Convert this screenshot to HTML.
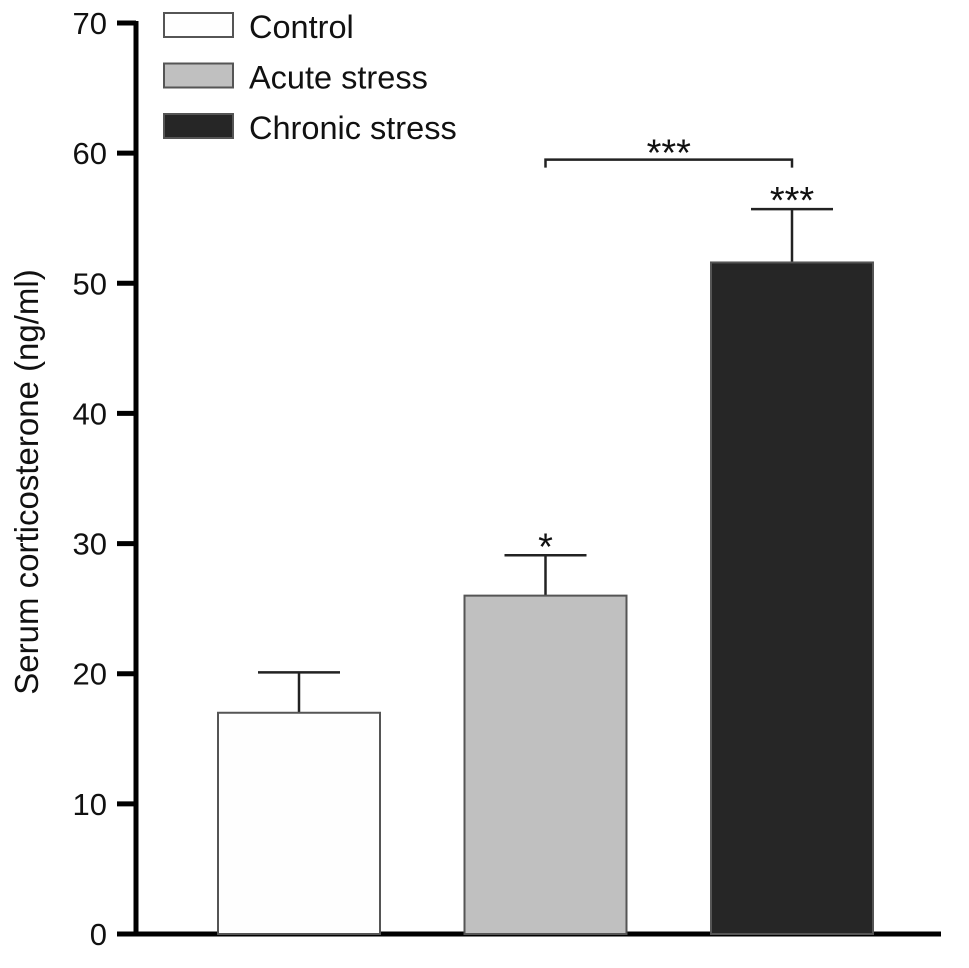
<!DOCTYPE html>
<html><head><meta charset="utf-8"><style>
body{margin:0;background:#fff;}
svg text{font-family:"Liberation Sans",Arial,sans-serif;fill:#111;}
</style></head><body>
<svg id="chart" width="969" height="963" viewBox="0 0 969 963" xmlns="http://www.w3.org/2000/svg">
<g id="axes"></g>
<g id="bars"></g>
<g id="legend"></g>
<text transform="translate(38,482) rotate(-90)" text-anchor="middle" font-size="33">Serum corticosterone (ng/ml)</text>
</svg>
<script>
const categories = ["Control", "Acute stress", "Chronic stress"];
const values = [17, 26, 51.6];
const errors = [3.1, 3.1, 4.1];
const sigLabels = ["", "*", "***"];
const yTicks = [0, 10, 20, 30, 40, 50, 60, 70];
const bracketLabel = "***";

const NS = "http://www.w3.org/2000/svg";
const y0 = 934, yTop = 23, yMax = 70;
const yScale = v => y0 - (v / yMax) * (y0 - yTop);
const barX = i => 218 + i * 246.5;
const barW = 162;
const fills = ["#fefefe", "#c0c0c0", "#262626"];
function mk(tag, attrs, parent) {
  const e = document.createElementNS(NS, tag);
  for (const k in attrs) e.setAttribute(k, attrs[k]);
  parent.appendChild(e);
  return e;
}
const axes = document.getElementById('axes');
const bars = document.getElementById('bars');
const legend = document.getElementById('legend');

categories.forEach((c, i) => {
  const x = barX(i), cx = x + barW / 2;
  const top = yScale(values[i]), etop = yScale(values[i] + errors[i]);
  const el = mk('line', {x1: cx, x2: cx, y1: top, y2: etop, stroke: '#222', 'stroke-width': 2.5}, bars);
  
  
  const cap = mk('line', {x1: cx - 41, x2: cx + 41, y1: etop, y2: etop, stroke: '#222', 'stroke-width': 2.5}, bars);
  
  
  const r = mk('rect', {x: x, y: top, width: barW, height: y0 - top, fill: fills[i], stroke: '#555', 'stroke-width': 2}, bars);
  
  
  if (sigLabels[i]) {
    const t = mk('text', {x: cx, y: etop + 4, 'text-anchor': 'middle', 'font-size': 38}, bars);
    t.textContent = sigLabels[i];
    
    
  }
});
{
  const xa = barX(1) + barW / 2, xb = barX(2) + barW / 2, yb = yScale(59.5);
  const p = mk('path', {d: `M${xa},${yb + 8} V${yb} H${xb} V${yb + 8}`, fill: 'none', stroke: '#222', 'stroke-width': 2.5}, bars);
  
  
  const t = mk('text', {x: (xa + xb) / 2, y: yb + 6, 'text-anchor': 'middle', 'font-size': 38}, bars);
  t.textContent = bracketLabel;
  
  
}
{
  const ya = mk('line', {x1: 136, x2: 136, y1: yTop - 2, y2: y0 + 2.5, stroke: '#000', 'stroke-width': 5}, axes);
  
  
  const xa = mk('line', {x1: 117, x2: 941, y1: y0, y2: y0, stroke: '#000', 'stroke-width': 5}, axes);
  
  
  yTicks.forEach(v => {
    const y = yScale(v);
    const tk = mk('line', {x1: 117, x2: 136, y1: y, y2: y, stroke: '#000', 'stroke-width': 5}, axes);
    
    
    const t = mk('text', {x: 107, y: y + 11, 'text-anchor': 'end', 'font-size': 31}, axes);
    t.textContent = v;
    
    
  });
}
categories.forEach((c, i) => {
  const y = 13 + i * 50.5;
  const r = mk('rect', {x: 164, y: y, width: 69, height: 24, fill: fills[i], stroke: '#555', 'stroke-width': 2}, legend);
  
  
  const t = mk('text', {x: 249, y: y + 25, 'font-size': 32.5}, legend);
  t.textContent = c;
  
  
});
</script>
</body></html>
